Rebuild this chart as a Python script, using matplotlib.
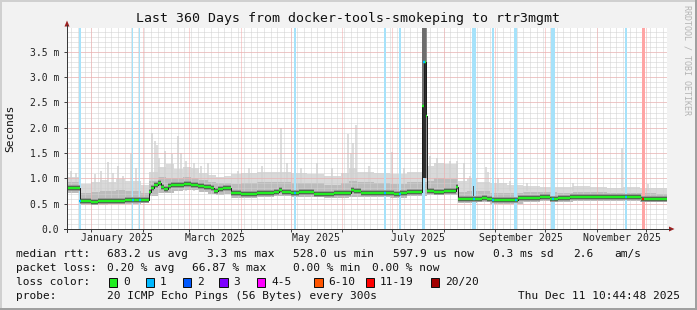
import numpy as np
import matplotlib
matplotlib.use("Agg")
import matplotlib.pyplot as plt
from matplotlib.patches import Rectangle, Polygon
from matplotlib.lines import Line2D

W, H, DPI = 697, 310, 100
PX = 72.0 / DPI  # points per pixel

# ---------------- data (x = days since 2025-01-01, y = milliseconds) ----------------
x_start, x_end = -14.6, 346.4
month_starts = [0, 31, 59, 90, 120, 151, 181, 212, 243, 273, 304, 334]
label_days = [15.5, 74.5, 135.5, 196.5, 258.5, 319.5]
label_text = ["January 2025", "March 2025", "May 2025", "July 2025",
              "September 2025", "November 2025"]
y_ticks = [0.0, 0.5, 1.0, 1.5, 2.0, 2.5, 3.0, 3.5]
y_labels = ["0.0", "0.5 m", "1.0 m", "1.5 m", "2.0 m", "2.5 m", "3.0 m", "3.5 m"]

med_days = [-14.6, -6.8, 0, 4, 8, 12, 16, 20, 24, 27, 30, 34.5, 36, 38, 40, 42, 44, 46, 48,
            52, 56, 60, 64, 68, 72, 74, 76, 79, 84, 90, 96, 100, 106, 110, 113, 115, 120,
            125, 130, 134, 138, 142, 146, 150, 154, 156, 158, 162, 170, 176, 182, 186, 190,
            195, 198.8, 199.95, 201.1, 202.2, 206, 212, 216, 219.5, 220.5, 224, 228, 232,
            235, 238, 241, 248, 254, 257, 264, 270, 276, 281, 288, 296, 304, 312, 320, 326,
            331, 346.4]
med_vals = [0.81, 0.55, 0.54, 0.545, 0.55, 0.56, 0.555, 0.565, 0.575, 0.57, 0.58, 0.74, 0.80,
            0.86, 0.90, 0.82, 0.79, 0.84, 0.86, 0.875, 0.89, 0.87, 0.85, 0.83, 0.80, 0.76,
            0.79, 0.80, 0.71, 0.70, 0.70, 0.715, 0.72, 0.73, 0.77, 0.735, 0.72, 0.73, 0.73,
            0.70, 0.69, 0.70, 0.705, 0.71, 0.72, 0.77, 0.745, 0.72, 0.72, 0.715, 0.70, 0.72,
            0.735, 0.74, 2.42, 3.29, 2.24, 0.75, 0.74, 0.745, 0.75, 0.83, 0.59, 0.585, 0.59,
            0.595, 0.62, 0.60, 0.57, 0.565, 0.57, 0.62, 0.615, 0.625, 0.59, 0.62, 0.635, 0.63,
            0.635, 0.63, 0.625, 0.63, 0.60, 0.60]

smoke_days = [-14.6, -6.8, 0, 5, 10, 15, 20, 25, 30, 34.5, 40, 45, 50, 55, 60, 65, 70, 75, 80,
              84, 90, 100, 110, 120, 130, 140, 150, 155, 160, 170, 180, 190, 198, 202.2, 206,
              212, 220.5, 226, 232, 240, 250, 260, 270, 280, 290, 300, 310, 320, 330, 340, 346.4]
smoke_hi = [1.02, 0.88, 0.92, 0.96, 0.93, 0.98, 0.95, 0.94, 0.86, 1.12, 1.22, 1.28, 1.18, 1.22,
            1.20, 1.10, 1.06, 1.02, 1.04, 1.08, 1.10, 1.12, 1.13, 1.10, 1.08, 1.05, 1.10, 1.20,
            1.12, 1.10, 1.08, 1.12, 1.12, 1.25, 1.30, 1.28, 0.95, 0.98, 0.92, 0.90, 0.86, 0.84,
            0.82, 0.82, 0.84, 0.82, 0.80, 0.82, 0.80, 0.80, 0.80]
smoke_mid = [0.92, 0.72, 0.74, 0.76, 0.75, 0.77, 0.76, 0.76, 0.72, 0.95, 1.02, 1.00, 1.00, 1.02,
             1.00, 0.96, 0.92, 0.90, 0.90, 0.88, 0.90, 0.92, 0.93, 0.90, 0.90, 0.86, 0.90, 0.95,
             0.92, 0.90, 0.88, 0.92, 0.92, 0.95, 1.00, 0.98, 0.74, 0.76, 0.75, 0.72, 0.71, 0.73,
             0.73, 0.72, 0.73, 0.73, 0.72, 0.72, 0.71, 0.70, 0.70]
smoke_lo = [0.72, 0.48, 0.48, 0.48, 0.49, 0.49, 0.50, 0.50, 0.51, 0.66, 0.72, 0.72, 0.76, 0.78,
            0.78, 0.74, 0.70, 0.68, 0.70, 0.62, 0.62, 0.63, 0.65, 0.64, 0.63, 0.61, 0.62, 0.64,
            0.64, 0.64, 0.62, 0.65, 0.65, 0.67, 0.67, 0.68, 0.52, 0.52, 0.53, 0.50, 0.50, 0.54,
            0.55, 0.53, 0.56, 0.56, 0.56, 0.55, 0.54, 0.54, 0.54]

# single tall pings sticking out of the smoke
peak_days = [-12, -9, 2, 6, 10, 13, 16, 19, 24, 27, 36.8, 38.5, 39.5, 41, 44.2, 48.5, 52.3, 54,
             57, 62, 66, 70, 88, 95, 103, 114, 118, 126, 135.6, 145, 154.4, 156, 157.5, 159.3,
             167, 181.2, 188, 204, 208, 216, 220, 224.4, 228, 237.4, 239, 245, 252, 262, 290,
             319.4, 335]
peak_tops = [1.15, 1.10, 1.08, 1.15, 1.32, 1.10, 1.25, 1.05, 1.49, 1.20, 1.89, 1.73, 1.65, 1.40,
             1.55, 1.48, 1.83, 1.50, 1.35, 1.30, 1.25, 1.30, 1.15, 1.20, 1.25, 2.00, 1.30, 1.20,
             1.30, 1.20, 1.88, 1.50, 1.70, 2.06, 1.25, 1.52, 1.20, 1.45, 1.40, 1.35, 1.35, 1.30,
             1.05, 1.22, 1.12, 1.00, 0.95, 0.90, 0.90, 1.59, 0.88]

# July outage column
burst_days = [198.8, 199.95, 201.1]
burst_lo = [1.0, 1.0, 1.0]
burst_med = [2.42, 3.29, 1.0]

# loss events: day, width (days), loss class index
loss_days = [-6.8, 24.9, 29.1, 122.6, 176.7, 185.7, 200.0, 230.4, 241.8, 255.3, 277.9, 321.8, 332.2]
loss_width = [0.9, 0.9, 0.9, 0.9, 0.8, 0.8, 2.0, 2.2, 1.0, 1.7, 2.0, 0.8, 1.7]
loss_class = [1, 1, 1, 1, 1, 1, 1, 1, 1, 1, 1, 1, 6]

loss_names = ["0", "1", "2", "3", "4-5", "6-10", "11-19", "20/20"]
loss_colors = ["#22ee22", "#00b8ff", "#0059ff", "#7e00ff", "#ff00ff", "#ff5500", "#ff0000", "#a10000"]
loss_bg = ["#c8ffc8", "#a6e2fa", "#a8c4ff", "#d0b0ff", "#ffb0ff", "#ffc0a0", "#ffa4a4", "#e0a0a0"]


def px(x, y):
    return x / W, 1 - y / H


def step_at(days, vals, d):
    i = np.searchsorted(days, d, side="right") - 1
    return vals[max(i, 0)]


fig = plt.figure(figsize=(W / DPI, H / DPI), dpi=DPI, facecolor="#f2f2f2")
ax = fig.add_axes([67 / W, 1 - 229 / H, 600 / W, 201 / H])
ax.set_facecolor("white")
ax.set_xlim(x_start, x_end)
ax.set_ylim(0, 3.97)
for s in ax.spines.values():
    s.set_visible(False)

# smoke
ax.fill_between(smoke_days, smoke_lo, smoke_hi, step="post", color="#d9d9d9", lw=0, zorder=1)
ax.vlines(peak_days, 0.75, peak_tops, color="#d2d2d2", lw=1.5 * PX, zorder=1.2)
ax.fill_between(smoke_days, smoke_lo, smoke_mid, step="post", color="#bcbcbc", lw=0, zorder=1.5)

# grid (dotted, drawn over the smoke)
dot = (0, (1, 1))
grid_kw = dict(lw=PX, ls=dot)
for d in np.arange(-12, x_end, 4):
    ax.axvline(d, color="#d0d0d0", zorder=3, **grid_kw)
for v in np.arange(0.1, 3.97, 0.1):
    ax.axhline(v, color="#d0d0d0", zorder=3, **grid_kw)
for d in month_starts:
    ax.axvline(d, color="#f4a8a8", zorder=3.1, **grid_kw)
for v in y_ticks[1:]:
    ax.axhline(v, color="#f4a8a8", zorder=3.1, **grid_kw)

# loss background bars
for d, w, c in zip(loss_days, loss_width, loss_class):
    ax.axvspan(d - w / 2, d + w / 2, color=loss_bg[c], lw=0, zorder=4)

# July outage column
bw = burst_days[1] - burst_days[0]
ax.bar(burst_days, [3.97 - b for b in burst_lo], bottom=burst_lo, width=bw, align="edge",
       color=["#6e6e6e", "#6e6e6e", "#8c8c8c"], lw=0, zorder=5)
ax.bar(burst_days, [m - b for m, b in zip(burst_med, burst_lo)], bottom=burst_lo, width=bw,
       align="edge", color="#2e2e2e", lw=0, zorder=5.1)
ax.bar([230.0], [0.25], bottom=[0.6], width=0.8, color="#555555", lw=0, zorder=5.1)

# median line
md = np.array(med_days)
mv = np.array(med_vals)
x0, x1, yv = md[:-1], md[1:], mv[:-1]
normal = yv < 1.5
ax.hlines(yv[normal], x0[normal], x1[normal], color="#9a9a9a", lw=6 * PX, zorder=6)
ax.step(md, mv, where="post", color="#1e1e1e", lw=PX, zorder=6.2)
ax.hlines(yv[normal], x0[normal], x1[normal], color="#444444", lw=3.6 * PX, zorder=6.3)
ax.hlines(yv, x0, x1, color=loss_colors[0], lw=2.4 * PX, zorder=6.5)
for d, c in zip(loss_days, loss_class):
    v = step_at(md, mv, d)
    ax.hlines(v, d - 0.6, d + 0.6, color=loss_colors[c], lw=2.4 * PX, zorder=6.6)

# ticks
ax.set_yticks(y_ticks)
ax.set_yticklabels(y_labels, family="DejaVu Sans Mono", fontsize=7.0, color="#222222")
ax.set_xticks(month_starts)
ax.set_xticklabels([])
ax.set_xticks(label_days, minor=True)
ax.set_xticklabels(label_text, minor=True, family="DejaVu Sans Mono", fontsize=7.1,
                   color="#222222")
ax.tick_params(axis="y", which="major", length=2, width=PX, color="#444444", pad=3.6)
ax.tick_params(axis="x", which="major", length=2, width=PX, color="#444444")
ax.tick_params(axis="x", which="minor", length=0, pad=2.9)

# axes with arrows
fig.add_artist(Line2D([67 / W, 67 / W], [px(0, 232)[1], px(0, 25)[1]], color="#3a3a3a", lw=PX))
fig.add_artist(Line2D([64 / W, 670 / W], [px(0, 229)[1]] * 2, color="#3a3a3a", lw=PX))
fig.add_artist(Polygon([px(64.5, 26.5), px(69.5, 26.5), px(67, 20.5)], closed=True,
                       color="#9c2020", lw=0))
fig.add_artist(Polygon([px(669, 226.5), px(669, 231.5), px(674.5, 229)], closed=True,
                       color="#9c2020", lw=0))

mono = "DejaVu Sans Mono"
fig.text(*px(347.7, 18.5), "Last 360 Days from docker-tools-smokeping to rtr3mgmt",
         family=mono, fontsize=9.55, ha="center", va="center", color="#111111")
fig.text(*px(10.7, 128), "Seconds", family=mono, fontsize=8.1, rotation=90,
         ha="center", va="center", color="#111111")
fig.text(*px(687.5, 60), "RRDTOOL / TOBI OETIKER", family=mono, fontsize=6.0, rotation=270,
         ha="center", va="center", color="#b4b4b4")

rows = [
    (254.3, [(16, "median rtt:"), (107, "683.2 us avg"), (206.7, "3.3 ms max"),
             (292.7, "528.0 us min"), (393.3, "597.9 us now"), (493.3, "0.3 ms sd"),
             (573.3, "2.6"), (614, "am/s")]),
    (268.3, [(16, "packet loss:"), (107, "0.20 % avg"), (192.3, "66.87 % max"),
             (292.7, "0.00 % min"), (372, "0.00 % now")]),
    (282.3, [(16, "loss color:")]),
    (296.0, [(16, "probe:"), (107, "20 ICMP Echo Pings (56 Bytes) every 300s")]),
]
for y, items in rows:
    for x, t in items:
        fig.text(*px(x, y), t, family=mono, fontsize=8.0, ha="left", va="center",
                 color="#111111")
fig.text(*px(680, 296.0), "Thu Dec 11 10:44:48 2025", family=mono, fontsize=8.0,
         ha="right", va="center", color="#111111")

box_x = [108.7, 145.7, 182.7, 219.3, 256.7, 314.0, 365.7, 430.7]
for bx, name, col in zip(box_x, loss_names, loss_colors):
    fig.add_artist(Rectangle(px(bx, 286.5), 8.5 / W, 8.5 / H, facecolor=col,
                             edgecolor="#111111", lw=PX))
    fig.text(*px(bx + 14.3, 282.3), name, family=mono, fontsize=8.0, ha="left",
             va="center", color="#111111")

# outer frame
fig.add_artist(Line2D([0, 1], [1 - 1 / H] * 2, color="#d0d0d0", lw=2 * PX))
fig.add_artist(Line2D([1 / W] * 2, [0, 1], color="#d0d0d0", lw=2 * PX))
fig.add_artist(Line2D([0, 1], [1.5 / H] * 2, color="#a0a0a0", lw=3 * PX))
fig.add_artist(Line2D([1 - 1.5 / W] * 2, [0, 1], color="#a0a0a0", lw=3 * PX))

fig.savefig("out.png", dpi=DPI, facecolor=fig.get_facecolor())
